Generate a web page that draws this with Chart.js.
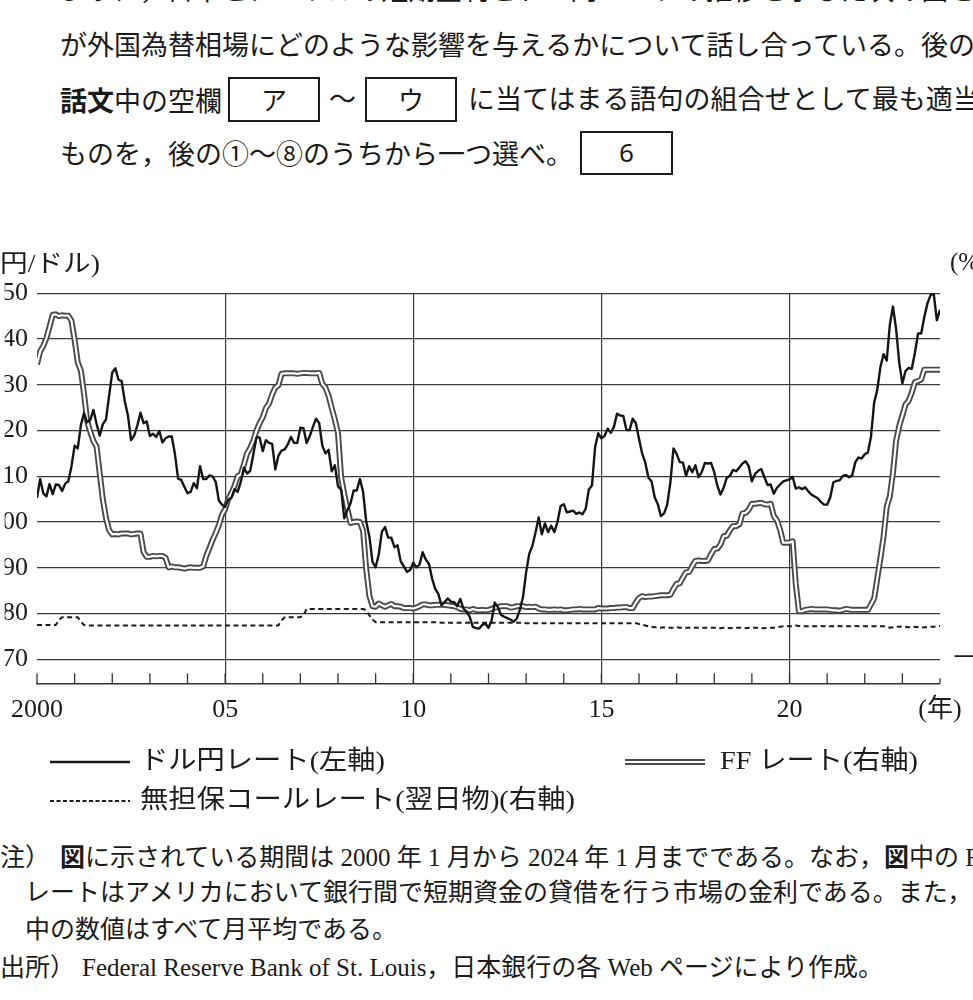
<!DOCTYPE html>
<html lang="ja">
<head>
<meta charset="utf-8">
<script src="https://cdn.jsdelivr.net/npm/chart.js@4.4.1/dist/chart.umd.min.js"></script>
<style>
  html, body { margin: 0; padding: 0; background: #fff; }
  body {
    width: 973px; height: 1000px; overflow: hidden; position: relative;
    font-family: "Liberation Serif", "Noto Sans CJK JP", serif; color: #1a1a1a;
  }
  .t { position: absolute; white-space: nowrap; line-height: 30px; }
  .q { font-size: 27px; }
  .n { font-size: 25px; }
  .box {
    position: absolute; box-sizing: border-box; border: 2.5px solid #1a1a1a;
    text-align: center; font-family: "Noto Sans CJK JP", "Noto Sans", sans-serif; font-size: 26px;
  }
  #chart { position: absolute; left: 0; top: 240px; }
</style>
</head>
<body>

<!-- question text above the chart -->
<div class="t q" style="top:-24px;left:60px">ように，日本とアメリカの短期金利とドル円レートの推移を示した次の図を作成し，両国の金</div>
<div class="t q" style="top:31px;left:60px">が外国為替相場にどのような影響を与えるかについて話し合っている。後の会</div>
<div class="t q" style="top:85px;left:60px"><b style="font-family:'Noto Sans CJK JP'">話文</b>中の空欄</div>
<div class="box" style="left:228px;top:77px;width:92px;height:45px;line-height:40px">ア</div>
<div class="t q" style="top:85px;left:329px">～</div>
<div class="box" style="left:365px;top:77px;width:92px;height:45px;line-height:40px">ウ</div>
<div class="t q" style="top:85px;left:468px">に当てはまる語句の組合せとして最も適当な</div>
<div class="t q" style="top:140px;left:60px">ものを，後の①～⑧のうちから一つ選べ。</div>
<div class="box" style="left:580px;top:131px;width:93px;height:44px;line-height:39px;font-family:'Noto Sans',sans-serif">6</div>

<canvas id="chart" width="1000" height="580"></canvas>

<!-- notes under the chart -->
<div class="t n" style="top:843px;left:-25px">（注）</div>
<div class="t n" style="top:843px;left:60px"><b>図</b>に示されている期間は 2000 年 1 月から 2024 年 1 月までである。なお，<b>図</b>中の FF</div>
<div class="t n" style="top:878px;left:25px">レートはアメリカにおいて銀行間で短期資金の貸借を行う市場の金利である。また，図</div>
<div class="t n" style="top:915px;left:25px">中の数値はすべて月平均である。</div>
<div class="t n" style="top:953px;left:-25px">（出所）</div>
<div class="t n" style="top:953px;left:82px">Federal Reserve Bank of St. Louis，日本銀行の各 Web ページにより作成。</div>

<script>
// monthly averages, Jan 2000 .. Jan 2024 (one row per year)
const startYear = 2000

// ドル円レート (円/ドル, left axis)
const usdJpy = [
  105.3, 109.4, 106.3, 105.6, 108.3, 106.1, 108.2, 108.1, 106.8, 108.4, 108.9, 112.2,
  116.7, 116.1, 121.2, 123.8, 121.8, 122.3, 124.5, 121.5, 118.9, 121.4, 122.4, 127.6,
  132.7, 133.6, 131.1, 130.8, 126.4, 123.3, 117.9, 118.9, 121.1, 123.9, 121.6, 122.0,
  118.8, 119.3, 118.6, 119.9, 117.4, 118.3, 118.7, 118.7, 114.8, 109.5, 109.2, 107.7,
  106.3, 106.6, 108.5, 107.4, 112.2, 109.4, 109.4, 110.2, 110.0, 108.8, 104.7, 103.8,
  103.3, 104.9, 105.3, 107.2, 106.6, 108.8, 111.9, 110.6, 111.2, 114.8, 118.5, 118.5,
  115.5, 117.9, 117.3, 117.1, 111.5, 114.5, 115.6, 115.9, 117.0, 118.6, 117.3, 117.3,
  120.6, 120.5, 117.3, 118.8, 120.8, 122.6, 121.6, 116.7, 115.0, 115.8, 111.1, 112.4,
  107.8, 107.1, 100.8, 102.6, 104.1, 106.9, 106.9, 109.4, 106.6, 100.1,  96.9,  91.3,
   90.1,  92.9,  97.9,  98.9,  96.6,  96.6,  94.5,  94.9,  91.4,  90.3,  89.1,  89.5,
   91.1,  90.1,  90.7,  93.4,  91.8,  90.9,  87.7,  85.4,  84.3,  81.8,  82.5,  83.3,
   82.6,  82.5,  81.6,  83.2,  81.1,  80.4,  79.3,  77.1,  76.8,  76.7,  77.5,  77.8,
   76.9,  78.5,  82.4,  81.4,  79.7,  79.3,  79.0,  78.7,  78.2,  78.9,  80.8,  83.6,
   89.0,  93.1,  94.8,  97.7, 101.0,  97.3,  99.7,  97.8,  99.2,  97.8, 100.0, 103.5,
  103.9, 102.1, 102.3, 102.5, 101.8, 102.1, 101.7, 102.9, 107.1, 108.0, 116.4, 119.4,
  118.3, 118.8, 120.4, 119.5, 120.8, 123.7, 123.3, 123.2, 120.1, 120.1, 122.6, 121.6,
  118.2, 115.0, 113.0, 109.7, 108.9, 105.4, 103.9, 101.3, 101.9, 103.8, 108.6, 116.1,
  114.9, 113.1, 113.0, 110.1, 112.2, 110.9, 112.4, 109.8, 110.9, 112.9, 112.8, 112.9,
  110.9, 107.9, 106.0, 107.5, 109.7, 110.1, 111.4, 111.1, 111.9, 112.8, 113.3, 112.2,
  108.9, 110.5, 111.2, 111.6, 109.8, 108.1, 108.2, 106.2, 107.5, 108.2, 108.9, 109.1,
  109.3, 109.9, 107.3, 107.6, 107.2, 107.6, 106.7, 106.0, 105.6, 105.2, 104.4, 103.8,
  103.8, 105.4, 108.7, 109.0, 109.1, 110.1, 110.3, 109.8, 110.2, 113.1, 114.1, 113.9,
  114.8, 115.2, 118.7, 126.1, 128.9, 133.9, 136.7, 135.3, 143.1, 147.1, 142.2, 134.8,
  130.3, 133.0, 133.7, 133.5, 137.0, 141.2, 141.2, 144.8, 147.8, 149.6, 149.9, 144.1,
  146.4
]

// FF レート (%, right axis)
const ffRate = [
  5.45, 5.73, 5.85, 6.02, 6.27, 6.53, 6.54, 6.50, 6.52, 6.51, 6.51, 6.40,
  5.98, 5.49, 5.31, 4.80, 4.21, 3.97, 3.77, 3.65, 3.07, 2.49, 2.09, 1.82,
  1.73, 1.74, 1.73, 1.75, 1.75, 1.75, 1.73, 1.74, 1.75, 1.75, 1.34, 1.24,
  1.24, 1.26, 1.25, 1.26, 1.26, 1.22, 1.01, 1.03, 1.01, 1.01, 1.00, 0.98,
  1.00, 1.01, 1.00, 1.00, 1.00, 1.03, 1.26, 1.43, 1.61, 1.76, 1.93, 2.16,
  2.28, 2.50, 2.63, 2.79, 3.00, 3.04, 3.26, 3.50, 3.62, 3.78, 4.00, 4.16,
  4.29, 4.49, 4.59, 4.79, 4.94, 4.99, 5.24, 5.25, 5.25, 5.25, 5.25, 5.24,
  5.25, 5.26, 5.26, 5.25, 5.25, 5.25, 5.26, 5.02, 4.94, 4.76, 4.49, 4.24,
  3.94, 2.98, 2.61, 2.28, 1.98, 2.00, 2.01, 2.00, 1.81, 0.97, 0.39, 0.16,
  0.15, 0.22, 0.18, 0.15, 0.18, 0.21, 0.16, 0.16, 0.15, 0.12, 0.12, 0.12,
  0.11, 0.13, 0.16, 0.20, 0.20, 0.18, 0.18, 0.19, 0.19, 0.19, 0.19, 0.18,
  0.17, 0.16, 0.14, 0.10, 0.09, 0.09, 0.07, 0.10, 0.08, 0.07, 0.08, 0.07,
  0.08, 0.10, 0.13, 0.14, 0.16, 0.16, 0.16, 0.13, 0.14, 0.16, 0.16, 0.16,
  0.14, 0.15, 0.14, 0.15, 0.11, 0.09, 0.09, 0.08, 0.08, 0.09, 0.08, 0.09,
  0.07, 0.07, 0.08, 0.09, 0.09, 0.10, 0.09, 0.09, 0.09, 0.09, 0.09, 0.12,
  0.11, 0.11, 0.11, 0.12, 0.12, 0.13, 0.13, 0.14, 0.14, 0.12, 0.12, 0.24,
  0.34, 0.38, 0.36, 0.37, 0.37, 0.38, 0.39, 0.40, 0.40, 0.40, 0.41, 0.54,
  0.65, 0.66, 0.79, 0.90, 0.91, 1.04, 1.15, 1.16, 1.15, 1.15, 1.16, 1.30,
  1.41, 1.42, 1.51, 1.69, 1.70, 1.82, 1.91, 1.91, 1.95, 2.19, 2.20, 2.27,
  2.40, 2.40, 2.41, 2.42, 2.39, 2.38, 2.40, 2.13, 2.04, 1.83, 1.55, 1.55,
  1.55, 1.58, 0.65, 0.05, 0.05, 0.08, 0.09, 0.10, 0.09, 0.09, 0.09, 0.09,
  0.09, 0.08, 0.07, 0.07, 0.06, 0.08, 0.10, 0.09, 0.08, 0.08, 0.08, 0.08,
  0.08, 0.08, 0.20, 0.33, 0.77, 1.21, 1.68, 2.33, 2.56, 3.08, 3.78, 4.10,
  4.33, 4.57, 4.65, 4.83, 5.06, 5.08, 5.12, 5.33, 5.33, 5.33, 5.33, 5.33,
  5.33
]

// 無担保コールレート(翌日物), as read against the right axis
const callRate = [
  -0.25, -0.25, -0.25, -0.25, -0.25, -0.25, -0.25, -0.14, -0.08, -0.08, -0.08, -0.08,
  -0.08, -0.08, -0.18, -0.25, -0.26, -0.26, -0.26, -0.26, -0.26, -0.26, -0.26, -0.26,
  -0.26, -0.26, -0.26, -0.26, -0.26, -0.26, -0.26, -0.26, -0.26, -0.26, -0.26, -0.26,
  -0.26, -0.26, -0.26, -0.26, -0.26, -0.26, -0.26, -0.26, -0.26, -0.26, -0.26, -0.26,
  -0.26, -0.26, -0.26, -0.26, -0.26, -0.26, -0.26, -0.26, -0.26, -0.26, -0.26, -0.26,
  -0.26, -0.26, -0.26, -0.26, -0.26, -0.26, -0.26, -0.26, -0.26, -0.26, -0.26, -0.26,
  -0.26, -0.26, -0.26, -0.26, -0.26, -0.26, -0.15, -0.08, -0.08, -0.08, -0.08, -0.08,
  -0.08, -0.04,  0.10,  0.10,  0.10,  0.10,  0.10,  0.10,  0.10,  0.10,  0.10,  0.10,
   0.10,  0.10,  0.10,  0.10,  0.10,  0.10,  0.10,  0.10,  0.10,  0.07, -0.04, -0.13,
  -0.19, -0.19, -0.19, -0.19, -0.19, -0.19, -0.19, -0.19, -0.19, -0.19, -0.19, -0.19,
  -0.19, -0.19, -0.19, -0.19, -0.19, -0.19, -0.19, -0.19, -0.19, -0.20, -0.20, -0.20,
  -0.20, -0.20, -0.20, -0.20, -0.20, -0.20, -0.20, -0.20, -0.20, -0.20, -0.20, -0.20,
  -0.20, -0.20, -0.20, -0.20, -0.20, -0.20, -0.20, -0.20, -0.20, -0.20, -0.20, -0.20,
  -0.21, -0.21, -0.21, -0.21, -0.21, -0.21, -0.21, -0.21, -0.21, -0.21, -0.21, -0.21,
  -0.21, -0.21, -0.21, -0.21, -0.21, -0.21, -0.21, -0.21, -0.21, -0.21, -0.21, -0.21,
  -0.21, -0.21, -0.21, -0.21, -0.21, -0.21, -0.21, -0.21, -0.21, -0.21, -0.21, -0.21,
  -0.23, -0.24, -0.26, -0.28, -0.29, -0.30, -0.30, -0.31, -0.30, -0.31, -0.31, -0.31,
  -0.30, -0.31, -0.31, -0.31, -0.31, -0.30, -0.31, -0.31, -0.31, -0.31, -0.31, -0.31,
  -0.31, -0.31, -0.32, -0.31, -0.31, -0.32, -0.31, -0.31, -0.31, -0.31, -0.32, -0.31,
  -0.31, -0.31, -0.31, -0.32, -0.32, -0.31, -0.31, -0.31, -0.30, -0.29, -0.28, -0.27,
  -0.28, -0.28, -0.26, -0.27, -0.28, -0.28, -0.28, -0.28, -0.28, -0.28, -0.27, -0.28,
  -0.28, -0.28, -0.28, -0.27, -0.28, -0.28, -0.28, -0.28, -0.28, -0.27, -0.28, -0.28,
  -0.28, -0.28, -0.28, -0.28, -0.28, -0.28, -0.28, -0.29, -0.31, -0.30, -0.29, -0.29,
  -0.28, -0.29, -0.30, -0.30, -0.29, -0.30, -0.31, -0.30, -0.30, -0.29, -0.29, -0.28,
  -0.27
]

const seriesLabels = ["ドル円レート(左軸)", "FF レート(右軸)", "無担保コールレート(翌日物)(右軸)"]

// axis ticks
const yenTicks   = [70, 80, 90, 100, 110, 120, 130, 140, 150]
const pctTicks   = [-1, 0, 1, 2, 3, 4, 5, 6, 7]
const yearTicks  = [2000, 2001, 2002, 2003, 2004, 2005, 2006, 2007, 2008, 2009, 2010, 2011, 2012,
                    2013, 2014, 2015, 2016, 2017, 2018, 2019, 2020, 2021, 2022, 2023, 2024]
const labelYears = [2000, 2005, 2010, 2015, 2020, 2024]
const yearLabels = ["2000", "05", "10", "15", "20", "(年)"]
const gridYears  = [2005, 2010, 2015, 2020]

const SERIF = '"Liberation Serif", "Noto Sans CJK JP", serif'
const INK   = "#1c1c1c"

// ─── HELPERS ────────────────────────────────────────────────────────────────
const toPoints = arr => arr.map((v, i) => ({ x: startYear + i / 12, y: v }))

// squeeze a string horizontally into a given width
function fitText(c, text, x, y, w) {
  const m = c.measureText(text).width
  c.save()
  c.translate(x, y)
  c.scale(w / m, 1)
  c.fillText(text, 0, 0)
  c.restore()
}

// ─── PLUGINS ────────────────────────────────────────────────────────────────
// short year ticks pointing up from the time axis
const yearMarks = {
  id: "yearMarks",
  afterDatasetsDraw(chart) {
    const c = chart.ctx, sx = chart.scales.x, b = chart.chartArea.bottom
    c.save()
    c.strokeStyle = "#333"
    c.lineWidth = 1.3
    sx.ticks.forEach(t => {
      const px = sx.getPixelForValue(t.value)
      const len = t.value === 2024 ? 5 : 10
      c.beginPath()
      c.moveTo(px, b)
      c.lineTo(px, b - len)
      c.stroke()
    })
    c.restore()
  }
}

// unit captions and the legend rows under the axis
const captions = {
  id: "captions",
  afterDraw(chart) {
    const c = chart.ctx
    c.save()
    c.fillStyle = INK
    c.textBaseline = "middle"

    c.font = "25px " + SERIF
    c.fillText("(", -9, 25)
    fitText(c, "円/ドル)", 0, 25, 100)
    c.fillText("(%)", 950, 23)

    // legend
    const r1 = 522, r2 = 561
    c.lineCap = "butt"
    c.strokeStyle = INK
    c.lineWidth = 2.3
    c.beginPath(); c.moveTo(50, r1); c.lineTo(130, r1); c.stroke()

    c.strokeStyle = "#4a4a4a"
    c.lineWidth = 6
    c.beginPath(); c.moveTo(625, r1); c.lineTo(705, r1); c.stroke()
    c.strokeStyle = "#fff"
    c.lineWidth = 2.2
    c.beginPath(); c.moveTo(625, r1); c.lineTo(705, r1); c.stroke()

    c.strokeStyle = INK
    c.lineWidth = 2
    c.setLineDash([4, 2.5])
    c.beginPath(); c.moveTo(50, r2); c.lineTo(130, r2); c.stroke()
    c.setLineDash([])

    c.font = "26px " + SERIF
    fitText(c, seriesLabels[0], 140, r1, 245)
    fitText(c, seriesLabels[1], 720, r1, 198)
    fitText(c, seriesLabels[2], 140, r2, 435)
    c.restore()
  }
}

// ─── CHART ──────────────────────────────────────────────────────────────────
const tickFont = { family: SERIF, size: 26 }

new Chart(document.getElementById("chart").getContext("2d"), {
  type: "line",
  data: {
    datasets: [
      { label: seriesLabels[0], data: toPoints(usdJpy), yAxisID: "y",
        borderColor: "#151515", borderWidth: 2.4 },
      { label: seriesLabels[1], data: toPoints(ffRate), yAxisID: "y2",
        borderColor: "#ffffff", borderWidth: 2.2 },
      { label: seriesLabels[1], data: toPoints(ffRate), yAxisID: "y2",
        borderColor: "#4a4a4a", borderWidth: 6 },
      { label: seriesLabels[2], data: toPoints(callRate), yAxisID: "y2",
        borderColor: INK, borderWidth: 2, borderDash: [5, 3.5] },
    ]
  },
  options: {
    responsive: false,
    animation: false,
    events: [],
    elements: {
      point: { radius: 0 },
      line: { tension: 0, fill: false, borderJoinStyle: "round" },
    },
    layout: { padding: { left: 0, right: 10, top: 53.3, bottom: 96.7 } },
    plugins: { legend: { display: false }, tooltip: { enabled: false } },
    scales: {
      x: {
        type: "linear", min: 2000, max: 2024,
        afterBuildTicks: s => { s.ticks = yearTicks.map(v => ({ value: v })) },
        afterFit: s => { s.height = 40 },
        ticks: {
          autoSkip: false, maxRotation: 0, padding: 11, font: tickFont, color: INK,
          callback: v => { const k = labelYears.indexOf(v); return k < 0 ? "" : yearLabels[k] },
        },
        grid: {
          drawTicks: false, lineWidth: 1.2,
          color: c => gridYears.includes(c.tick && c.tick.value) ? "#3a3a3a" : "rgba(0,0,0,0)",
        },
        border: { display: true, color: "#333", width: 1.5 },
      },
      y: {
        position: "left", min: 64.75, max: 150,
        afterBuildTicks: s => { s.ticks = yenTicks.map(v => ({ value: v })) },
        afterFit: s => { s.width = 32.3 },
        ticks: { padding: 9, font: tickFont, color: INK },
        grid: { drawTicks: false, color: "#3a3a3a", lineWidth: 1.2 },
        border: { display: false },
      },
      y2: {
        position: "right", min: -1.525, max: 7,
        afterBuildTicks: s => { s.ticks = pctTicks.map(v => ({ value: v })) },
        afterFit: s => { s.width = 50 },
        ticks: {
          crossAlign: "far", font: tickFont, color: INK,
          callback: v => v < 0 ? "－" + Math.abs(v) : String(v),
        },
        grid: { display: false },
        border: { display: false },
      },
    },
  },
  plugins: [yearMarks, captions],
})
</script>
</body>
</html>
